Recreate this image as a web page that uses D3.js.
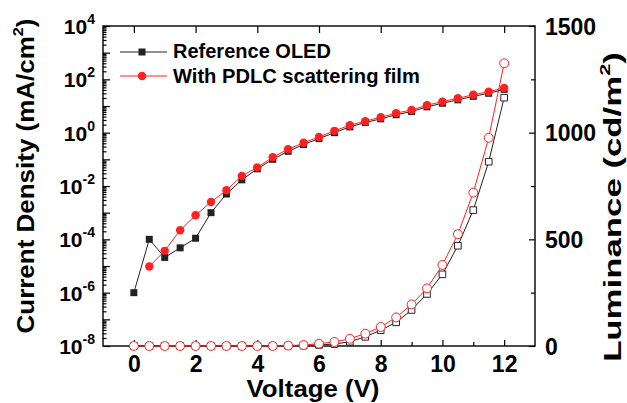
<!DOCTYPE html>
<html>
<head>
<meta charset="utf-8">
<script src="https://cdn.jsdelivr.net/npm/d3@7"></script>
<style>
  body { margin: 0; background: #fff; }
  svg { font-family: "Liberation Sans", Arial, sans-serif; font-weight: bold; }
</style>
</head>
<body>
<svg id="chart"></svg>
<script>
// data
var voltage = [0, 0.5, 1, 1.5, 2, 2.5, 3, 3.5, 4, 4.5, 5, 5.5, 6, 6.5, 7, 7.5, 8, 8.5, 9, 9.5, 10, 10.5, 11, 11.5, 12];
var refCurrent = [1e-6, 1e-4, 2.1e-5, 4.8e-5, 1.1e-4, 1.0e-3, 5.0e-3, 1.7e-2, 4.4e-2, 0.10, 0.20, 0.36, 0.60, 1.0, 1.65, 2.4, 3.3, 4.7, 6.2, 9.3, 12.7, 17, 23, 30, 42];
var pdlcCurrent = [null, 9.5e-6, 3.7e-5, 2.2e-4, 8.0e-4, 2.5e-3, 6.9e-3, 2.4e-2, 5.0e-2, 0.12, 0.24, 0.42, 0.69, 1.17, 1.9, 2.7, 3.8, 5.4, 7.1, 10.7, 14.6, 19.4, 26.5, 34.3, 47.5];
var refLum = [0, 0, 0, 0, 0, 0, 0, 0, 0, 0, 1, 2, 5, 9, 20, 43, 74, 111, 169, 244, 336, 470, 637, 864, 1164];
var pdlcLum = [0, 0, 0, 0, 0, 0, 0, 0, 0, 0, 2, 4.7, 11, 19, 34, 58, 89, 134, 195, 270, 380, 524, 719, 976, 1325];

var xTicks = [0, 2, 4, 6, 8, 10, 12];
var xMinor = [1, 3, 5, 7, 9, 11];
var decades = [-8, -7, -6, -5, -4, -3, -2, -1, 0, 1, 2, 3, 4];
var lumTicks = [0, 500, 1000, 1500];
var lumMinor = [250, 750, 1250];
var legendNames = ["Reference OLED", "With PDLC scattering film"];

var width = 627, height = 403;
var pl = 103, pr = 535, pt = 26, pb = 346;
var black = "#222", red = "#ff2020";

var svg = d3.select("#chart").attr("width", width).attr("height", height);

var x = d3.scaleLinear().domain([-1, 13]).range([pl, pr]);
var yJ = d3.scaleLog().domain([1e-8, 1e4]).range([pb, pt]);
var yL = d3.scaleLinear().domain([0, 1500]).range([pb, pt]);

function stretchTo(sel, target) {
  var len = sel.node().getComputedTextLength();
  return target / len;
}

// ---- axes ----
function styleAxis(g) {
  g.select(".domain").remove();
  g.selectAll("line").attr("stroke", "#000").attr("stroke-width", 1.2);
  g.attr("font-family", null).attr("font-size", null);
  g.selectAll("text").attr("fill", "#000");
}

// bottom
svg.append("g").attr("transform", "translate(0," + pb + ")")
  .call(d3.axisBottom(x).tickValues(xMinor).tickSize(-4).tickFormat(""))
  .call(styleAxis);
svg.append("g").attr("transform", "translate(0," + pb + ")")
  .call(d3.axisBottom(x).tickValues(xTicks).tickSize(-6).tickPadding(10))
  .call(styleAxis)
  .selectAll("text").attr("font-size", 23);

// top
svg.append("g").attr("transform", "translate(0," + pt + ")")
  .call(d3.axisTop(x).tickValues(xTicks).tickSize(-7).tickFormat(""))
  .call(styleAxis);

// left log axis
var minorVals = [];
decades.slice(0, -1).forEach(function (e) {
  for (var k = 2; k < 10; k++) minorVals.push(k * Math.pow(10, e));
});
svg.append("g").attr("transform", "translate(" + pl + ",0)")
  .call(d3.axisLeft(yJ).tickValues(minorVals).tickSize(-3.5).tickFormat(""))
  .call(styleAxis);
var leftAx = svg.append("g").attr("transform", "translate(" + pl + ",0)")
  .call(d3.axisLeft(yJ).tickValues(decades.map(function (e) { return Math.pow(10, e); }))
    .tickSize(-7).tickPadding(8).tickFormat(""))
  .call(styleAxis);
leftAx.selectAll("text").each(function (d) {
  var e = Math.round(Math.log10(d));
  if (e % 2 !== 0) return;
  var t = d3.select(this).attr("dy", 7.5).attr("font-size", 21);
  t.append("tspan").text("10");
  t.append("tspan").attr("dy", -10).attr("font-size", 14).text(e);
});

// right linear axis
svg.append("g").attr("transform", "translate(" + pr + ",0)")
  .call(d3.axisRight(yL).tickValues(lumMinor).tickSize(-4).tickFormat(""))
  .call(styleAxis);
svg.append("g").attr("transform", "translate(" + pr + ",0)")
  .call(d3.axisRight(yL).tickValues(lumTicks).tickSize(-6).tickPadding(10).tickFormat(d3.format("d")))
  .call(styleAxis)
  .selectAll("text").attr("font-size", 23).attr("dy", 8);

// frame
svg.append("rect").attr("x", pl).attr("y", pt)
  .attr("width", pr - pl).attr("height", pb - pt)
  .attr("fill", "none").attr("stroke", "#000").attr("stroke-width", 1.4);

// ---- series ----
function rows(vals) {
  return voltage.map(function (v, i) { return { v: v, y: vals[i] }; })
    .filter(function (d) { return d.y !== null; });
}

function drawSeries(data, yScale, color, shape, filled) {
  var line = d3.line().x(function (d) { return x(d.v); }).y(function (d) { return yScale(d.y); });
  svg.append("path").datum(data).attr("d", line)
    .attr("fill", "none").attr("stroke", color).attr("stroke-width", 1);
  var sym = d3.symbol().type(shape).size(shape === d3.symbolSquare ? (filled ? 49 : 44) : (filled ? 56 : 62));
  svg.append("g").selectAll("path").data(data).enter().append("path")
    .attr("d", sym)
    .attr("transform", function (d) { return "translate(" + x(d.v) + "," + yScale(d.y) + ")"; })
    .attr("fill", filled ? color : "#fff")
    .attr("stroke", color).attr("stroke-width", filled ? 0 : 1);
}

drawSeries(rows(refLum), yL, black, d3.symbolSquare, false);
drawSeries(rows(pdlcLum), yL, red, d3.symbolCircle, false);
drawSeries(rows(refCurrent), yJ, black, d3.symbolSquare, true);
drawSeries(rows(pdlcCurrent), yJ, red, d3.symbolCircle, true);

// ---- legend ----
var legendRows = [
  { name: legendNames[0], color: black, shape: d3.symbolSquare, size: 49, y: 52, base: 58, w: 158 },
  { name: legendNames[1], color: red, shape: d3.symbolCircle, size: 56, y: 76, base: 83, w: 247 }
];
legendRows.forEach(function (r) {
  svg.append("line").attr("x1", 120).attr("x2", 167).attr("y1", r.y).attr("y2", r.y)
    .attr("stroke", r.color).attr("stroke-width", 1);
  svg.append("path").attr("d", d3.symbol().type(r.shape).size(r.size))
    .attr("transform", "translate(142," + r.y + ")").attr("fill", r.color);
  var t = svg.append("text").attr("font-size", 20).text(r.name);
  var s = stretchTo(t, r.w);
  t.attr("transform", "translate(173," + r.base + ") scale(" + s + ",1)");
});

// ---- axis titles ----
var xt = svg.append("text").attr("font-size", 24).attr("text-anchor", "middle").text("Voltage (V)");
xt.attr("transform", "translate(313,397) scale(" + stretchTo(xt, 133) + ",1)");

function vTitle(main, cx, cy, len) {
  var t = svg.append("text").attr("font-size", 24).attr("text-anchor", "middle");
  t.append("tspan").text(main);
  t.append("tspan").attr("dy", -11).attr("font-size", 15).text("2");
  t.append("tspan").attr("dy", 11).text(")");
  var s = stretchTo(t, len);
  t.attr("transform", "translate(" + cx + "," + cy + ") rotate(-90) scale(" + s + ",1)");
}
vTitle("Current Density (mA/cm", 34, 176, 315);
vTitle("Luminance (cd/m", 621, 207, 310);
</script>
</body>
</html>
